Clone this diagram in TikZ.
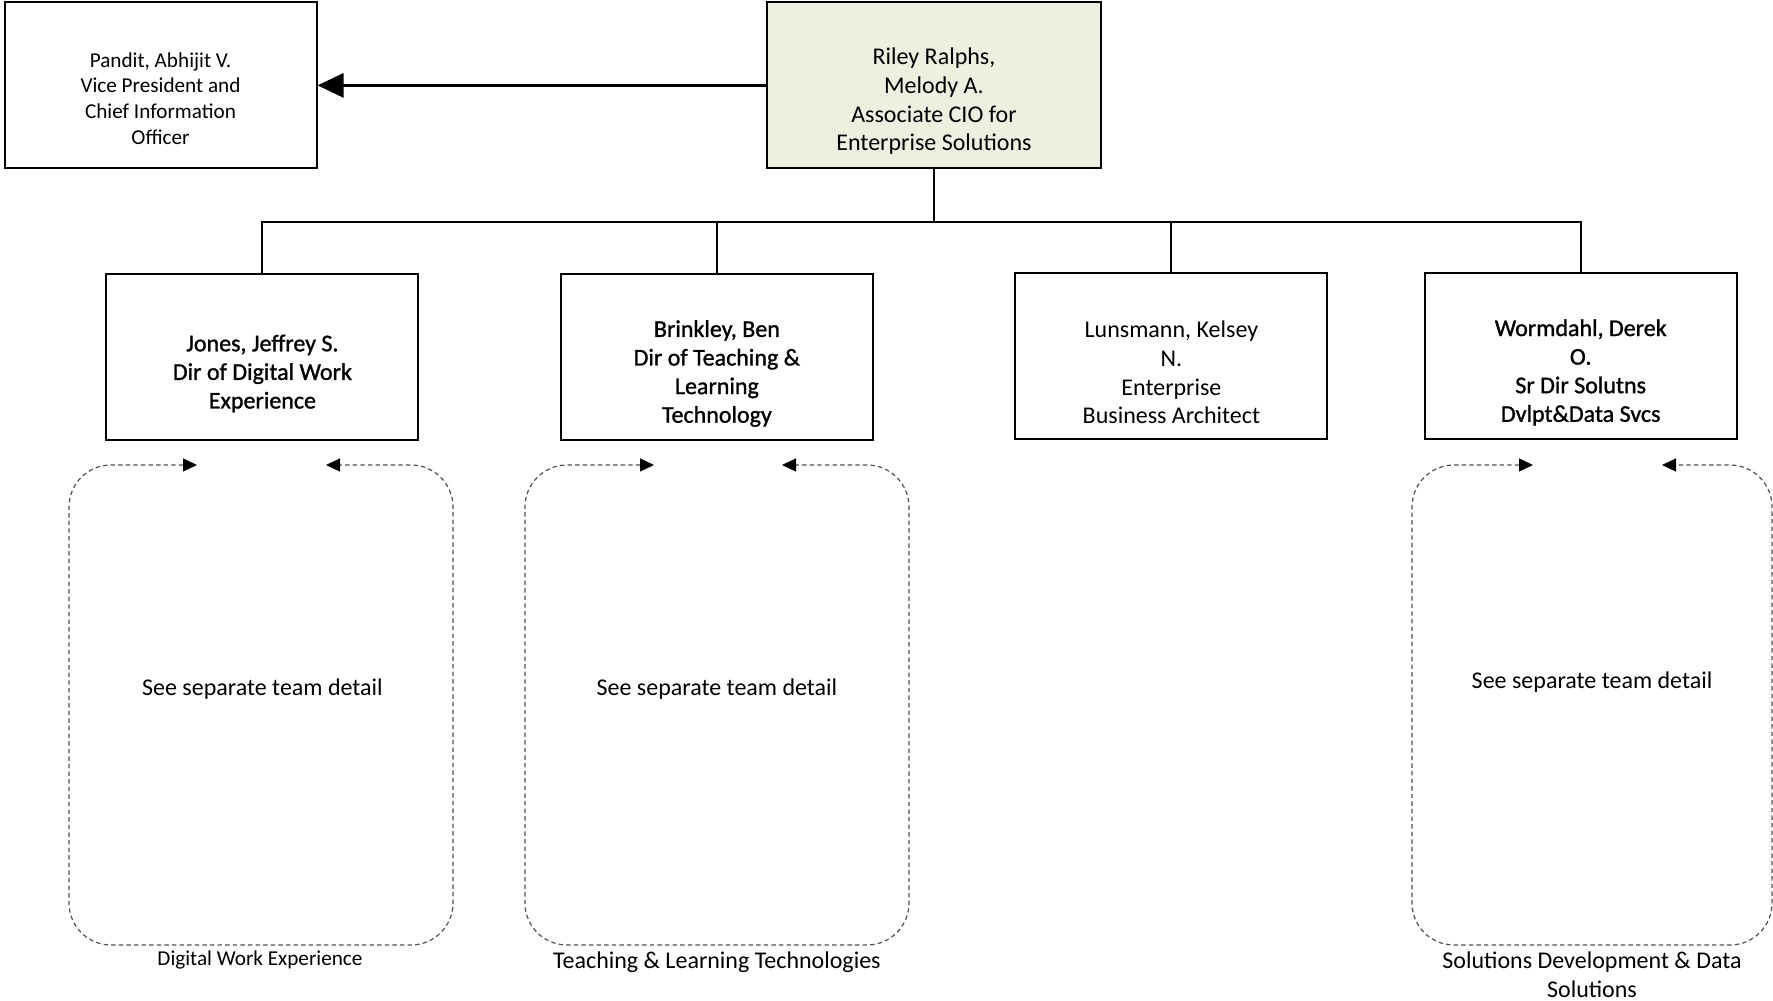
\documentclass[tikz,border=0pt]{standalone}
\usepackage{fontspec}
\setmainfont{Carlito}
\newfontfamily\heavyfont[FakeBold=1.2]{Carlito}
\usepackage{tikz}
\usetikzlibrary{arrows.meta,positioning}
\usepackage{xcolor}
\definecolor{cioGreen}{RGB}{235,241,222}
\definecolor{dashGray}{RGB}{80,80,80}
\tikzstyle{arrow} = [line width=1.4pt,-{Triangle[length=13pt,width=12pt]}]

\begin{document}
\begin{tikzpicture}[x=0.5pt, y=-0.5pt,
    box/.style={rectangle, draw, line width=1pt, minimum width=156pt, minimum height=83pt, inner sep=0pt},
    txt/.style={align=center, font=\fontsize{12}{14.3}\selectfont, inner sep=0pt},
    head/.style={txt, font=\fontsize{12}{14.3}\selectfont\heavyfont},
    small/.style={align=center, font=\fontsize{10.6}{12.9}\selectfont, inner sep=0pt},
    tree/.style={line width=1pt},
    team/.style={dashGray, line width=0.6pt, dash pattern=on 2.2pt off 1.6pt, rounded corners=21pt,
      {Triangle[black,length=7pt,width=6.5pt]}-{Triangle[black,length=7pt,width=6.5pt]}}]

\useasboundingbox (0,0) rectangle (1773,1001);

% Top row
\node[box] (pandit) at (160.5,85.4) {};
\node[small] (pandittxt) at (160.5,98.5) {Pandit, Abhijit V.\\Vice President and\\Chief Information\\Officer};
\node[box, fill=cioGreen, minimum width=167.4pt] (riley) at (934,85.4) {};
\node[txt] (rileytxt) at (934,101.5) {Riley Ralphs,\\Melody A.\\Associate CIO for\\Enterprise Solutions};

\draw[arrow] (riley.west) -- (pandit.east);

% Direct reports
\node[box] (jones) at (262.4,356.7) {};
\node[head] (jonestxt) at (262.4,373.5) {Jones, Jeffrey S.\\Dir of Digital Work\\Experience};
\node[box] (brinkley) at (716.9,356.7) {};
\node[head] (brinkleytxt) at (716.9,373.5) {Brinkley, Ben\\Dir of Teaching \&\\Learning\\Technology};
\node[box] (lunsmann) at (1171.4,356.2) {};
\node[txt] (lunsmanntxt) at (1171.4,372.5) {Lunsmann, Kelsey\\N.\\Enterprise\\Business Architect};
\node[box] (wormdahl) at (1580.7,355.6) {};
\node[head] (wormdahltxt) at (1580.7,372.5) {Wormdahl, Derek\\O.\\Sr Dir Solutns\\Dvlpt\&Data Svcs};

% Connect to CIO
\coordinate (bus) at (934,221.6);
\draw[tree] (riley.south) -- (bus);
\foreach \n in {jones,brinkley,lunsmann,wormdahl}
  \draw[tree] (bus) -| (\n.north);

% Team outlines
\foreach \l/\a/\b/\r in {69/197/326/453, 525/654/782/909, 1412/1533/1662/1772}
  \draw[team] (\a,465) -- (\l,465) -- (\l,945) -- (\r,945) -- (\r,465) -- (\b,465);

\node[txt] (dwedetail) at (262.4,689) {See separate team detail};
\node[txt] (tltdetail) at (716.9,689) {See separate team detail};
\node[txt] (sdddetail) at (1592,682) {See separate team detail};

% Team names
\node[small] (dwecap) at (260,960) {Digital Work Experience};
\node[txt] (tltcap) at (716.9,962) {Teaching \& Learning Technologies};
\node[txt] (sddcap) at (1592,975) {Solutions Development \& Data\\Solutions};

\end{tikzpicture}
\end{document}
